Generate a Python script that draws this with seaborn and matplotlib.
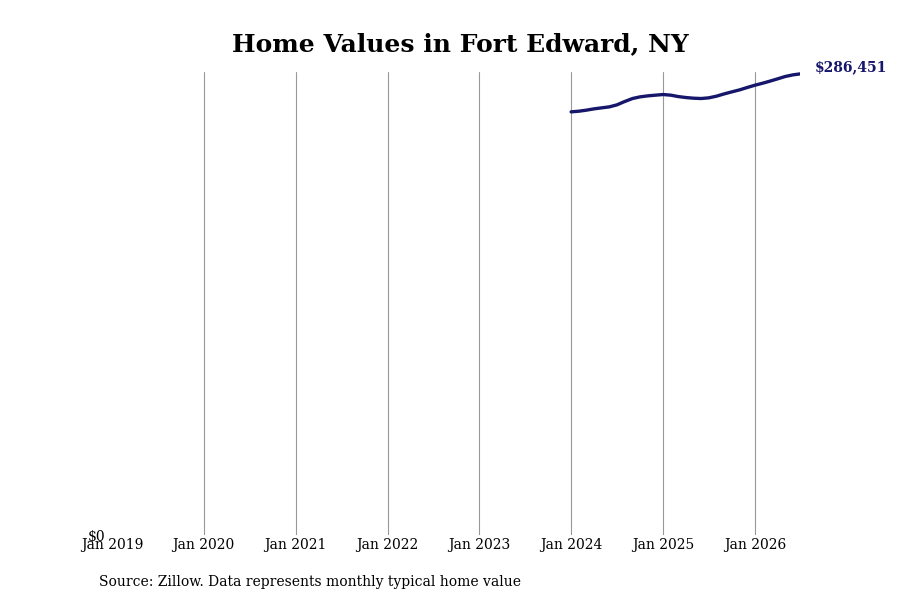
import numpy as np
import pandas as pd
import matplotlib
matplotlib.use("Agg")
import matplotlib.pyplot as plt
import seaborn as sns

# Monthly typical home value, Fort Edward NY
months = pd.date_range("2024-01-01", "2026-07-01", freq="MS")
values = [
    262850, 263260, 263880, 264710, 265330, 265950, 267190, 269270,
    271130, 272160, 272780, 273200, 273610, 273200, 272370, 271750,
    271330, 271130, 271540, 272580, 274020, 275260, 276500, 277960,
    279400, 280650, 281890, 283340, 284790, 285820, 286451,
]
year_ticks = pd.date_range("2019-01-01", "2026-01-01", freq="YS")
year_labels = [d.strftime("Jan %Y") for d in year_ticks]

df = pd.DataFrame({"date": months, "value": values})

sns.set_style("white")
plt.rcParams["font.family"] = ["DejaVu Serif"]
plt.rcParams["text.color"] = "black"
plt.rcParams["xtick.color"] = "black"
plt.rcParams["ytick.color"] = "black"

fig = plt.figure(figsize=(9, 6), dpi=100)
ax = fig.add_axes([0.1244, 0.108, 0.765, 0.772])

line_color = "#16166b"
sns.lineplot(data=df, x="date", y="value", ax=ax, color=line_color, linewidth=2.4)

ax.set_xlim(pd.Timestamp("2019-01-01"), pd.Timestamp("2026-07-01"))
ax.set_ylim(0, max(values) * 1.004)

ax.set_xticks(year_ticks)
ax.set_xticklabels(year_labels, fontsize=10)
ax.set_yticks([0])
ax.set_yticklabels(["$0"], fontsize=10)
ax.tick_params(axis="x", length=0, pad=2)
ax.tick_params(axis="y", length=0, pad=5)

ax.grid(axis="x", color="#999999", linewidth=0.8)
ax.grid(axis="y", visible=False)
# no gridline at the left edge (Jan 2019)
ax.xaxis.get_gridlines()[0].set_visible(False)
for s in ax.spines.values():
    s.set_visible(False)
ax.set_xlabel("")
ax.set_ylabel("")

ax.annotate(f"${values[-1]:,}", xy=(months[-1], values[-1]), xytext=(10, 5),
            textcoords="offset points", color=line_color, fontsize=10,
            fontweight="bold", va="center", ha="left")

fig.text(0.512, 0.927, "Home Values in Fort Edward, NY", ha="center", va="center",
         fontsize=18, fontweight="bold")
fig.text(0.11, 0.03, "Source: Zillow. Data represents monthly typical home value",
         ha="left", va="center", fontsize=10)

fig.savefig("out.png", dpi=100)
